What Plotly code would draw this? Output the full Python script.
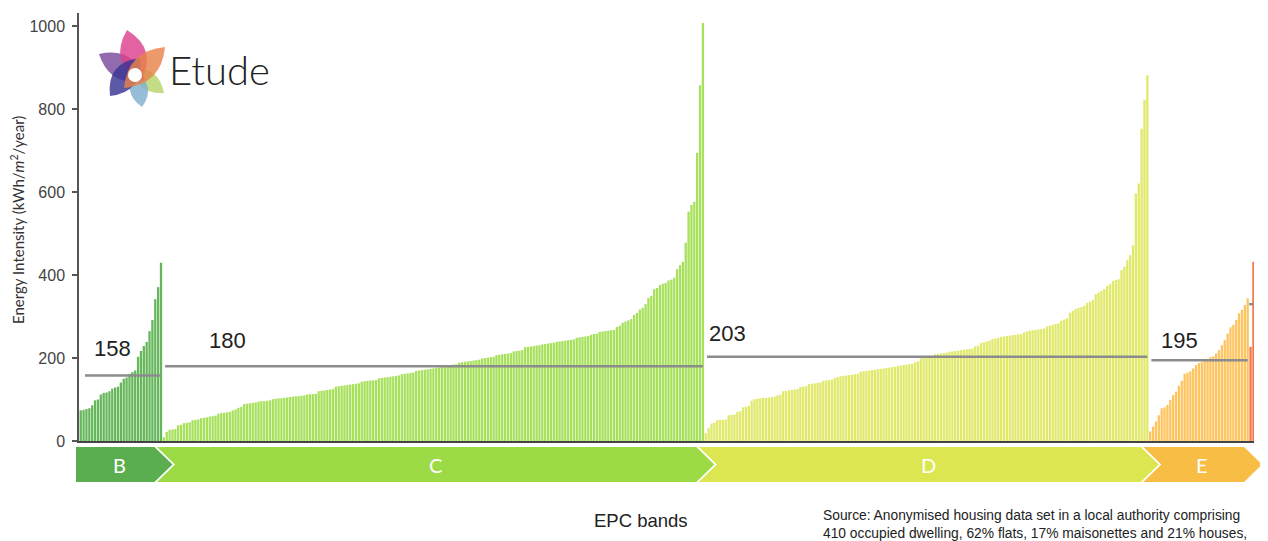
import plotly.graph_objects as go

# ---------------- data ----------------
bands = ["B", "C", "D", "E", "F"]
b_vals = [74, 75, 77, 79, 86, 98, 100, 112, 116, 117, 120, 126, 129, 131, 141, 150, 153,
          162, 166, 170, 203, 217, 229, 239, 265, 292, 342, 371, 430]
c_vals = [9, 22, 27, 28, 29, 38, 39, 43, 44, 45, 50, 51, 52, 55, 56, 57, 59, 60, 61,
          66, 67, 68, 69, 70, 74, 76, 80, 82, 89, 90, 91, 92, 93, 95, 96, 96, 97, 98,
          101, 102, 103, 103, 104, 105, 106, 107, 108, 108, 109, 110, 112, 113, 113, 114,
          120, 121, 122, 123, 124, 125, 131, 132, 133, 134, 135, 136, 137, 138, 139,
          143, 144, 145, 146, 146, 147, 151, 152, 153, 154, 155, 156, 157, 158,
          161, 162, 163, 164, 165, 169, 170, 171, 172, 173, 174, 175, 176, 177,
          180, 181, 182, 183, 184, 185, 189, 190, 191, 192, 193, 194, 195, 196,
          199, 200, 201, 202, 203, 207, 208, 209, 210, 211, 212, 216, 217, 218, 219,
          226, 227, 228, 229, 230, 231, 233, 234, 235, 236, 237, 239, 240, 241, 242, 243, 244, 245,
          249, 250, 251, 252, 253, 256, 258, 259, 263, 264, 265, 266, 267, 268, 275, 278,
          285, 288, 291, 294, 304, 309, 317, 321, 330,
          345, 350, 366, 369, 376, 379, 381, 387, 389, 394, 414, 424, 432, 478, 553, 569, 577,
          695, 858, 1008]
d_vals = [19, 31, 42, 44, 50, 51, 51, 52, 62, 63, 64, 70, 72, 81, 83, 85, 97,
          101, 102, 103, 104, 104, 105, 106, 107, 110, 112, 120, 121, 122, 123, 124, 125,
          130, 131, 132, 137, 138, 139, 140, 141, 145, 146, 147, 148, 152, 154,
          156, 157, 158, 159, 160, 161, 162, 167, 168, 169, 170, 171,
          172, 173, 174, 175, 176, 177, 178, 179, 181, 182, 183, 184, 185, 186, 190, 192,
          199, 200, 202, 203, 204, 209, 210, 211, 212, 213,
          215, 216, 217, 218, 219, 220, 221, 222, 223, 228, 230, 236, 238, 240, 242,
          246, 247, 249, 251, 252, 253, 254, 255, 256, 257, 258, 262, 264,
          266, 267, 268, 269, 270, 271, 276, 278, 280, 282, 284, 290, 293, 296, 309, 314,
          318, 321, 323, 326, 333, 336, 340, 354, 358, 362, 366, 374, 378, 386, 388, 390, 412,
          420, 436, 448, 472, 597, 621, 753, 823, 882]
e_vals = [23, 35, 47, 62, 79, 81, 87, 99, 111, 119, 133, 145, 162, 165, 168, 175, 183, 188,
          190, 196, 198, 202, 204, 211, 219, 231, 243, 259, 274, 280, 292, 308, 316, 328, 344]
f_vals = [227, 432]
band_means = [158, 180, 203, 195, 330]
mean_labels = ["158", "180", "203", "195", ""]
y_ticks = [0, 200, 400, 600, 800, 1000]
strip_bands = ["B", "C", "D", "E"]

bar_colors = ["#66B75B", "#A7E05B", "#E1E96B", "#FDC45F", "#F07A4E"]
strip_colors = ["#5BAE4F", "#9CDB46", "#DCE651", "#F8BD45"]

# ---------------- geometry ----------------
OFF = 8                      # page body margin
W, H = 1268 - OFF, 541 - OFF
ML, MR, MT, MB = 79 - OFF, 14, 13 - OFF, 100
X0, X1 = -0.6, 409.2
Y1 = 1032
PW = W - ML - MR
PH = H - MT - MB
BOTTOM = H - MB


def px_x(idx):
    """page pixel x of a bar index"""
    return OFF + ML + (idx - X0) / (X1 - X0) * PW


def pap_x(px):
    return (px - OFF - ML) / PW


def pap_y(py):
    return (BOTTOM - (py - OFF)) / PH


fig = go.Figure()

all_vals = [b_vals, c_vals, d_vals, e_vals, f_vals]
ranges = []
start = 0
for name, vals, col in zip(bands, all_vals, bar_colors):
    xs = list(range(start, start + len(vals)))
    fig.add_trace(go.Bar(x=xs, y=vals, width=0.8, marker=dict(color=col, line=dict(width=0)),
                         name=name, showlegend=False, hoverinfo="x+y"))
    ranges.append((start, start + len(vals) - 1))
    start += len(vals)

# mean lines
for i, ((s, e), m) in enumerate(zip(ranges, band_means)):
    x0 = s + 0.4
    if i == 0:
        x0 = 1.5
    if i == len(ranges) - 1:
        x0 = s - 0.5
    fig.add_trace(go.Scatter(x=[x0, e], y=[m, m], mode="lines",
                             line=dict(color="#8C8C8C", width=2.5),
                             showlegend=False, hoverinfo="skip"))

annotations = []
label_off = [3.9, 15, 0.3, 3.2]
label_shift = [27, 26, 23, 20]
for i in range(4):
    s, e = ranges[i]
    annotations.append(dict(x=s + label_off[i], y=band_means[i], xref="x", yref="y",
                            text=mean_labels[i], showarrow=False, xanchor="left",
                            yanchor="middle", yshift=label_shift[i],
                            font=dict(family="Liberation Sans, Arial", size=22, color="#222")))

# EPC strip
shapes = []
top_y, bot_y, mid_y = 447, 482, 464.5
half, gap = 9, 2.5
centers = []
for i in range(4):
    s, e = ranges[i]
    if i < 3:
        centers.append(px_x(e + 0.5) + 1)
    else:
        centers.append(px_x(X1) - 1)
for i, (lab, col) in enumerate(zip(strip_bands, strip_colors)):
    cr = centers[i]
    if i == 0:
        left = 76
        pts = [(left, top_y), (cr - half, top_y), (cr + half, mid_y), (cr - half, bot_y), (left, bot_y)]
        lc = left
    else:
        cl = centers[i - 1]
        pts = [(cl - half + gap, top_y), (cr - half, top_y), (cr + half, mid_y), (cr - half, bot_y),
               (cl - half + gap, bot_y), (cl + half + gap, mid_y)]
        lc = cl + 2
    path = "M " + " L ".join(f"{pap_x(x):.5f},{pap_y(y):.5f}" for x, y in pts) + " Z"
    shapes.append(dict(type="path", path=path, xref="paper", yref="paper",
                       fillcolor=col, line=dict(width=0), layer="above"))
    annotations.append(dict(x=pap_x((lc + cr) / 2), y=pap_y(mid_y), xref="paper", yref="paper",
                            text=lab, showarrow=False, xanchor="center", yanchor="middle",
                            font=dict(family="Lato, Liberation Sans", size=20, color="white")))

# Logo petals (page pixel coordinates)
petals = [
    ((164, 93), (132, 68), 9, "#B7D46A"),
    ((142, 107), (136, 72), 9, "#7FB0CF"),
    ((99, 54), (145, 80), 12, "#7A4A9E"),
    ((127, 30), (140, 82), 13, "#DD3F8C"),
    ((110, 96), (140, 58), 12, "#3B3594"),
    ((165, 47), (124, 88), 12, "#E8834A"),
]
for (tx, ty), (bx, by), w, col in petals:
    mx, my = (tx + bx) / 2, (ty + by) / 2
    dx, dy = tx - bx, ty - by
    ln = (dx * dx + dy * dy) ** 0.5
    nx, ny = -dy / ln, dx / ln
    c1 = (mx + nx * 2 * w, my + ny * 2 * w)
    c2 = (mx - nx * 2 * w, my - ny * 2 * w)
    path = (f"M {pap_x(bx):.5f},{pap_y(by):.5f} Q {pap_x(c1[0]):.5f},{pap_y(c1[1]):.5f} "
            f"{pap_x(tx):.5f},{pap_y(ty):.5f} Q {pap_x(c2[0]):.5f},{pap_y(c2[1]):.5f} "
            f"{pap_x(bx):.5f},{pap_y(by):.5f} Z")
    shapes.append(dict(type="path", path=path, xref="paper", yref="paper", fillcolor=col,
                       opacity=0.82, line=dict(width=0), layer="above"))
shapes.append(dict(type="circle", xref="paper", yref="paper", x0=pap_x(128), x1=pap_x(142),
                   y0=pap_y(82), y1=pap_y(68), fillcolor="white", line=dict(width=0), layer="above"))

annotations.append(dict(x=pap_x(167), y=pap_y(70), xref="paper", yref="paper", text="Etude",
                        showarrow=False, xanchor="left", yanchor="middle",
                        font=dict(family="Lato", size=40, color="#222", weight=300)))

# texts
annotations.append(dict(x=pap_x(17), y=pap_y(220), xref="paper", yref="paper",
                        text="Energy Intensity (kWh/<i>m</i><sup>2</sup>/year)", textangle=-90,
                        showarrow=False, xanchor="center", yanchor="middle",
                        font=dict(family="Lato, Liberation Sans", size=15, color="#333")))
annotations.append(dict(x=pap_x(641), y=pap_y(520), xref="paper", yref="paper", text="EPC bands",
                        showarrow=False, xanchor="center", yanchor="middle",
                        font=dict(family="Liberation Sans, Arial", size=18.5, color="#222")))
annotations.append(dict(x=pap_x(821), y=pap_y(524.5), xref="paper", yref="paper",
                        text="Source: Anonymised housing data set in a local authority comprising<br>"
                             "410 occupied dwelling, 62% flats, 17% maisonettes and 21% houses,",
                        showarrow=False, xanchor="left", yanchor="middle", align="left",
                        font=dict(family="Liberation Sans, Arial", size=13.8, color="#222")))

fig.update_layout(
    width=W, height=H, autosize=False,
    margin=dict(l=ML, r=MR, t=MT, b=MB, pad=0),
    plot_bgcolor="white", paper_bgcolor="white",
    barmode="overlay", showlegend=False,
    xaxis=dict(range=[X0, X1], showline=True, linecolor="#444", linewidth=2,
               showticklabels=False, ticks="", showgrid=False, zeroline=False),
    yaxis=dict(range=[0, Y1], tickvals=y_ticks, ticks="outside", ticklen=5, tickwidth=1.5,
               tickcolor="#555", showline=True, linecolor="#555", linewidth=1.5,
               showgrid=False, zeroline=False, ticklabelstandoff=4,
               tickfont=dict(family="Liberation Sans, Arial", size=16, color="#444")),
    shapes=shapes, annotations=annotations,
)

fig.write_html("out.html")
